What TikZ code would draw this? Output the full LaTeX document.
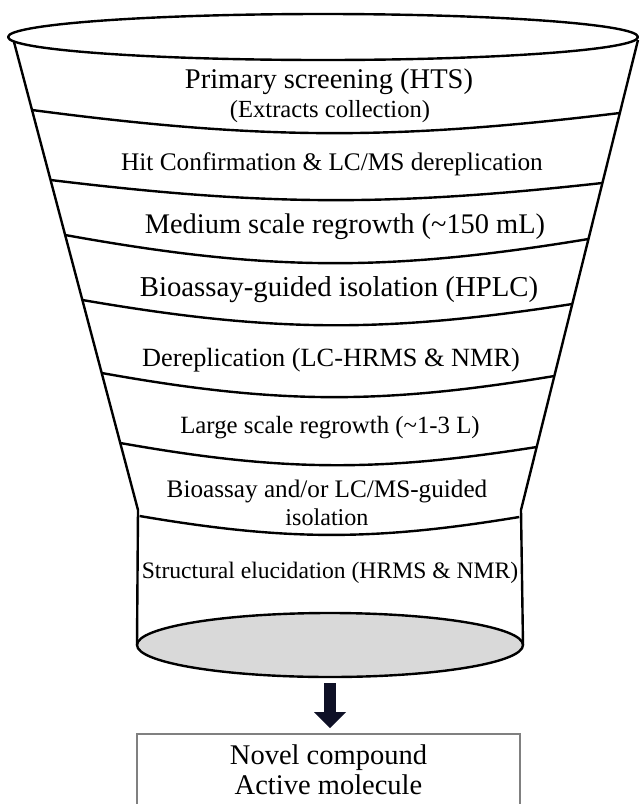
\documentclass[tikz,border=0pt]{standalone}
\usepackage{fontspec}
\setmainfont{Liberation Serif}
\usetikzlibrary{calc}
\usetikzlibrary{arrows.meta}
\usetikzlibrary{shapes.geometric}

\definecolor{basegray}{RGB}{217,217,217}
\definecolor{arrowink}{RGB}{14,16,38}
\definecolor{boxgray}{RGB}{128,128,128}
\newcommand{\stagefont}[1]{\fontsize{#1}{#1}\selectfont}

\begin{document}
\begin{tikzpicture}[x=1pt, y=-1pt,
  outline/.style={black, line width=2.4pt, line join=round},
  stage/.style={anchor=base, inner sep=0pt}]
\useasboundingbox (0,0) rectangle (640,804);
\clip (0,0) rectangle (640,804);
\coordinate (TL) at (14,42);
\coordinate (BL) at (138,510);
\coordinate (TR) at (638,40);
\coordinate (BR) at (521,510);
% bottom of the funnel
\node[ellipse, draw, outline, fill=basegray, minimum width=386pt, minimum height=64pt,
  inner sep=0pt, outer sep=0pt] (base) at (330,645) {};
\draw[outline] (TL) -- (BL) -- (base.west);
\draw[outline] (TR) -- (BR) -- (base.east);
\draw[outline] (323,37) ellipse [x radius=315pt, y radius=23pt];
% bands
\foreach \yl/\yr/\b in {110/113/7.2, 180/183/6.6, 235/239/9.8, 300/304/9.3,
  373/376/9.8, 443/447/9.5, 516/517/9.5} {
 \draw[outline] ($(TL)!{(\yl-42)/468}!(BL)$) to[bend right=\b] ($(TR)!{(\yr-40)/470}!(BR)$);
}
% stage labels
\foreach \nm/\x/\y/\s/\txt in {
  hts/329/88.4/28.5/{Primary screening (HTS)},
  extracts/330/117.5/24.6/{(Extracts collection)},
  hit/332/170.7/25.3/{Hit Confirmation \& LC/MS dereplication},
  medium/345/233.4/28.4/{Medium scale regrowth (\textasciitilde150 mL)},
  hplc/339/296.5/28.8/{Bioassay-guided isolation (HPLC)},
  derep/331/366/26.3/{Dereplication (LC-HRMS \& NMR)},
  large/330/433.6/24.8/{Large scale regrowth (\textasciitilde1-3 L)},
  guided/327/497.6/25.2/{Bioassay and/or LC/MS-guided},
  isol/327/525.4/24.1/{isolation},
  struct/330/578.3/23.6/{Structural elucidation (HRMS \& NMR)}} {
 \node[stage] (\nm) at (\x,\y) {\stagefont{\s}\txt};
}
\node[draw=boxgray, line width=1.6pt, minimum width=383pt, anchor=north, inner ysep=11pt,
  align=center, font=\fontsize{28.5}{30}\selectfont] (result) at (328.5,733)
  {Novel compound\\Active molecule\strut};
\draw[arrowink, line width=12pt, -{Triangle[width=32pt, length=16pt, line width=0pt]},
  shorten <=6pt, shorten >=5pt] (base.south) -- (base.south |- result.north);
\end{tikzpicture}
\end{document}
